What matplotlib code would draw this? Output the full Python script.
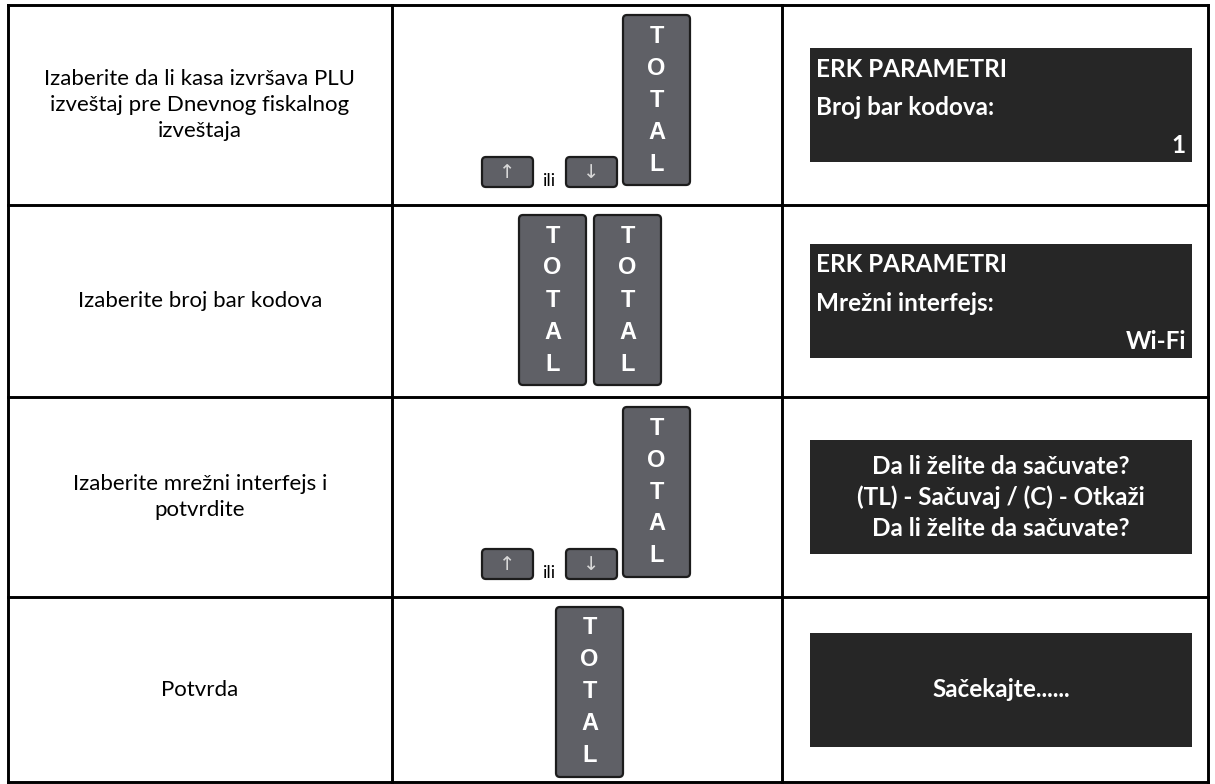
import matplotlib.pyplot as plt
from matplotlib.patches import FancyBboxPatch, Rectangle

# table content
steps = [
    "Izaberite da li kasa izvršava PLU\nizveštaj pre Dnevnog fiskalnog\nizveštaja",
    "Izaberite broj bar kodova",
    "Izaberite mrežni interfejs i\npotvrdite",
    "Potvrda",
]
# keys per row: "arrows" = up/ili/down + TOTAL, number = count of TOTAL keys
keys = ["arrows", 2, "arrows", 1]
key_word = "TOTAL"
screens = [
    ["ERK PARAMETRI", "Broj bar kodova:", "1"],
    ["ERK PARAMETRI", "Mrežni interfejs:", "Wi-Fi"],
    ["Da li želite da sačuvate?", "(TL) - Sačuvaj / (C) - Otkaži", "Da li želite da sačuvate?"],
    ["Sačekajte......"],
]

plt.rcParams['font.family'] = ['Lato', 'DejaVu Sans']

W, H = 1215, 784
fig = plt.figure(figsize=(W / 100, H / 100), dpi=100)
ax = fig.add_axes([0, 0, 1, 1])
ax.set_xlim(0, W)
ax.set_ylim(H, 0)
ax.axis('off')

row_y = [5, 205, 397, 597, 782]
col_x = [8, 392, 782, 1208]

# grid
for y in row_y:
    ax.plot([col_x[0], col_x[-1]], [y, y], color='black', lw=2.1, solid_capstyle='projecting')
for x in col_x:
    ax.plot([x, x], [row_y[0], row_y[-1]], color='black', lw=2.1, solid_capstyle='projecting')


def key(x0, y0, w, h, label, vertical=True):
    ax.add_patch(FancyBboxPatch((x0, y0), w, h, boxstyle="round,pad=0,rounding_size=4",
                                fc='#5f6066', ec='#1c1c1c', lw=1.6))
    if vertical:
        for i, ch in enumerate(label):
            ax.text(x0 + w / 2, y0 + 21 + i * 32, ch, color='white', fontsize=17,
                    fontweight='bold', family='Liberation Sans', ha='center', va='center')
    else:
        ax.text(x0 + w / 2, y0 + h / 2, label, color='#d8d8d8', fontsize=14,
                family='DejaVu Sans', ha='center', va='center')


for r in range(4):
    top, bot = row_y[r], row_y[r + 1]
    cy = (top + bot) / 2
    # step text
    ax.text((col_x[0] + col_x[1]) / 2, cy, steps[r], ha='center', va='center',
            fontsize=16, linespacing=1.35, color='black')
    # keys
    if keys[r] == "arrows":
        key(623, top + 10, 67, 170, key_word)
        key(482, top + 152, 51, 30, "↑", vertical=False)
        ax.text(550, top + 181, "ili", ha='center', va='baseline', fontsize=13)
        key(566, top + 152, 51, 30, "↓", vertical=False)
    elif keys[r] == 2:
        key(519, top + 10, 67, 170, key_word)
        key(594, top + 10, 67, 170, key_word)
    else:
        key(556, top + 10, 67, 170, key_word)
    # screen
    bx0, bx1 = 810, 1192
    by0, by1 = cy - 57, cy + 57
    ax.add_patch(Rectangle((bx0, by0), bx1 - bx0, by1 - by0, fc='#262626', ec='none'))
    lines = screens[r]
    kw = dict(color='white', fontsize=17.5, fontweight='bold', va='center')
    if r < 2:
        ax.text(bx0 + 6, by0 + 21, lines[0], ha='left', **kw)
        ax.text(bx0 + 6, by0 + 59, lines[1], ha='left', **kw)
        ax.text(bx1 - 6, by0 + 97, lines[2], ha='right', **kw)
    elif r == 2:
        for i, t in enumerate(lines):
            ax.text((bx0 + bx1) / 2, by0 + 26 + i * 31, t, ha='center', **kw)
    else:
        ax.text((bx0 + bx1) / 2, cy, lines[0], ha='center', **kw)

fig.savefig('out.png', dpi=100, facecolor='white')
